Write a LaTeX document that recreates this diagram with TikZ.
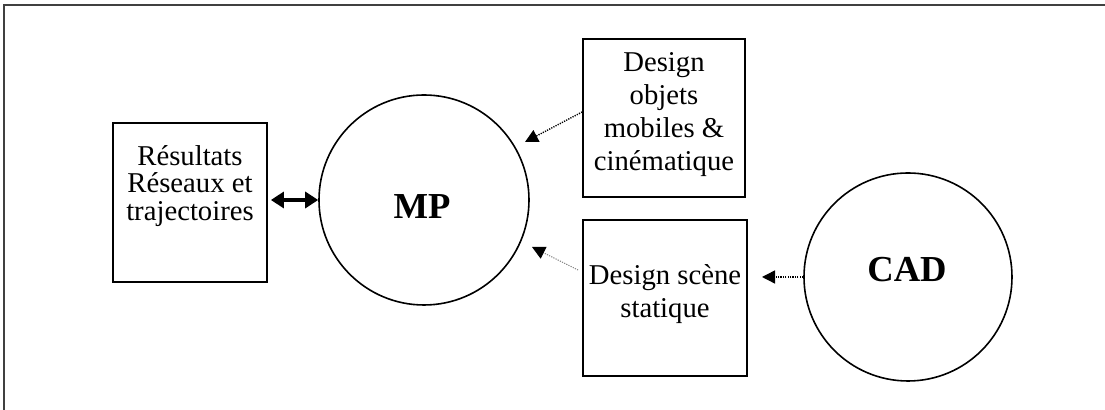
\documentclass[tikz,border=0pt]{standalone}
\usepackage{fontspec}
\setmainfont{Liberation Serif}
\usetikzlibrary{arrows.meta,calc}
\begin{document}
\begin{tikzpicture}[x=0.5pt,y=-0.5pt,
  boxnode/.style={draw, line width=0.9pt, inner sep=0pt},
  txt/.style={align=center, inner sep=0pt, anchor=north},
  circ/.style={draw, circle, line width=0.8pt, inner sep=0pt},
  bigtxt/.style={font=\fontsize{18.3pt}{20pt}\selectfont\bfseries, inner sep=0pt},
  dotarrow/.style={-{Triangle[length=6.5pt,width=6.5pt,color=black]}, line width=0.7pt, dash pattern=on 0.6pt off 0.6pt},
  dblarrow/.style={{Triangle[length=6.5pt,width=8pt]}-{Triangle[length=6.5pt,width=8pt]}, line width=2pt},
  frame/.style={line width=0.7pt, black!75}
]
\useasboundingbox (0,0) rectangle (1105,410);
% outer frame
\draw[frame] (4,410) -- (4,5) -- (1105,5);

% boxes
\node[boxnode, minimum width=77pt, minimum height=79.5pt] (res) at (190,202.5) {};
\node[boxnode, minimum width=81pt, minimum height=79pt] (obj) at (664,118) {};
\node[boxnode, minimum width=82pt, minimum height=78pt] (sce) at (665,298) {};

% circles
\node[circ, minimum size=105pt] (mp) at (424,200) {};
\node[circ, minimum size=104pt] (cad) at (908,277) {};

% texts
\node[txt, font=\fontsize{14.35pt}{13.75pt}\selectfont] (restxt) at (190,145) {Résultats\\Réseaux et\\trajectoires};
\node[txt, font=\fontsize{14.35pt}{16.6pt}\selectfont] (objtxt) at (664,52) {Design\\objets\\mobiles \&\\cinématique};
\node[txt, font=\fontsize{14.35pt}{16.5pt}\selectfont] (scetxt) at (665,264) {Design scène\\statique};
\node[bigtxt] (mplabel) at (422,207) {MP};
\node[bigtxt] (cadlabel) at (907,270) {CAD};

% connectors
\coordinate (objend) at (525,142);
\coordinate (sceend) at (532,247);
\coordinate (cadend) at (762,277);
\draw[dblarrow] ([xshift=1.5pt,yshift=1.25pt]res.east) -- (mp.west);
\draw[dotarrow] ([yshift=3pt]obj.west) -- (objend);
\draw[dotarrow, black!50, line width=0.5pt] ([xshift=-2pt,yshift=14pt]sce.west) -- (sceend);
\draw[dotarrow] (cad.west) -- (cadend);
\end{tikzpicture}
\end{document}
